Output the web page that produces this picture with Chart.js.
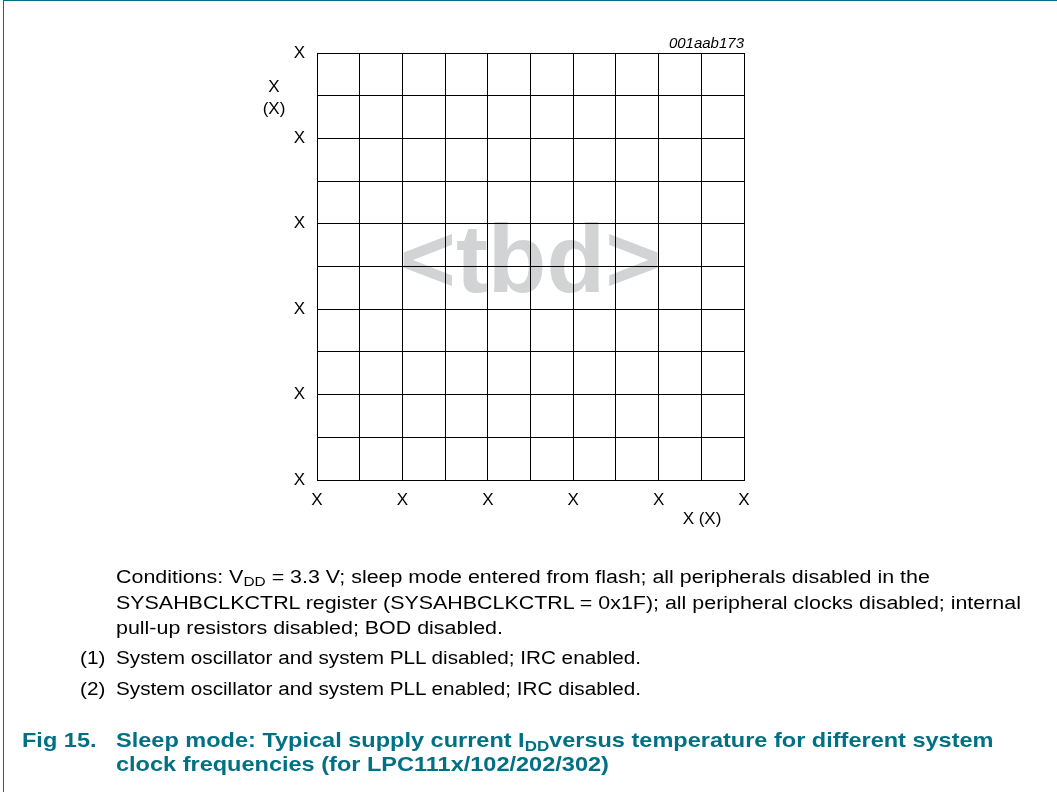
<!DOCTYPE html>
<html><head><meta charset="utf-8">
<script src="https://cdn.jsdelivr.net/npm/chart.js@4/dist/chart.umd.min.js"></script>
<style>
html,body{margin:0;padding:0;background:#fff;width:1057px;height:792px;overflow:hidden;font-family:"Liberation Sans",Arial,sans-serif;}
#frame{position:absolute;left:3px;top:0;width:1054px;height:792px;border-left:1px solid #007084;border-top:1px solid #007084;box-sizing:border-box;}
#wrap{position:absolute;left:0;top:0;width:1057px;height:792px;}
.t{position:absolute;white-space:nowrap;color:#000;}
.body{font-size:18px;line-height:25.5px;transform:scaleX(1.15);transform-origin:0 0;}
.para{transform:scaleX(1.19);}
sub{font-size:0.72em;vertical-align:-0.25em;line-height:0;}
.cap{font-size:21px;font-weight:bold;color:#007084;line-height:24px;transform:scaleX(1.12);transform-origin:0 0;}
</style></head><body>
<div id="frame"></div>
<div id="wrap"><canvas id="c" width="1057" height="792"></canvas></div>
<div class="t" style="left:0;width:548px;top:78px;text-align:center;font-size:17px;line-height:17px;">X</div>
<div class="t" style="left:0;width:548px;top:100px;text-align:center;font-size:17px;line-height:17px;">(X)</div>
<div class="t" style="left:660px;width:84px;top:510px;text-align:center;font-size:17px;line-height:17px;">X (X)</div>
<div class="t" style="right:313px;top:35px;font-size:15px;line-height:15px;font-style:italic;">001aab173</div>
<div class="t body para" style="left:116px;top:565px;">Conditions: V<sub>DD</sub> = 3.3 V; sleep mode entered from flash; all peripherals disabled in the<br>SYSAHBCLKCTRL register (SYSAHBCLKCTRL = 0x1F); all peripheral clocks disabled; internal<br>pull-up resistors disabled; BOD disabled.</div>
<div class="t body" style="left:80px;top:646px;">(1)</div>
<div class="t body" style="left:116px;top:646px;">System oscillator and system PLL disabled; IRC enabled.</div>
<div class="t body" style="left:80px;top:677px;">(2)</div>
<div class="t body" style="left:116px;top:677px;">System oscillator and system PLL enabled; IRC disabled.</div>
<div class="t cap" style="left:22px;top:728px;">Fig 15.</div>
<div class="t cap" style="left:116px;top:728px;">Sleep mode: Typical supply current I<sub>DD</sub>versus temperature for different system<br>clock frequencies (for LPC111x/102/202/302)</div>
<script>
// Tick labels (placeholder values in the reference)
const xTickLabels = ['X','X','X','X','X','X'];
const yTickLabels = ['X','X','X','X','X','X'];
const gridDivisions = 10;
// No data series are plotted in the reference (placeholder "<tbd>" chart)
const seriesData = [];

const watermark = {
  id:'watermark',
  beforeDraw(chart){
    const {ctx, chartArea:a} = chart;
    ctx.save();
    ctx.font = 'bold 96px "Liberation Sans", Arial, sans-serif';
    ctx.fillStyle = '#d1d3d4';
    ctx.textAlign = 'center';
    ctx.textBaseline = 'alphabetic';
    ctx.fillText('<tbd>', (a.left+a.right)/2, 292);
    ctx.restore();
  }
};

const tickFont = {family:'"Liberation Sans", Arial, sans-serif', size:17};
new Chart(document.getElementById('c'), {
  type:'scatter',
  data:{datasets:[{data:seriesData, showLine:false}]},
  options:{
    responsive:false, animation:false, maintainAspectRatio:false,
    layout:{padding:{left:260, top:53, right:313, bottom:272}},
    plugins:{legend:{display:false}, tooltip:{enabled:false}},
    scales:{
      x:{type:'linear', min:0, max:gridDivisions,
        afterFit(s){s.height=40;},
        afterBuildTicks(s){s.ticks=[...Array(gridDivisions+1).keys()].map(v=>({value:v}));},
        ticks:{autoSkip:false, maxRotation:0, padding:10, color:'#000', font:tickFont,
          callback:(v)=> v%2===0 ? xTickLabels[v/2] : ''},
        grid:{color:'#000', lineWidth:1, drawTicks:false},
        border:{color:'#000', width:1}},
      y:{type:'linear', min:0, max:gridDivisions,
        afterFit(s){s.width=57;},
        afterBuildTicks(s){s.ticks=[...Array(gridDivisions+1).keys()].map(v=>({value:v}));},
        ticks:{autoSkip:false, padding:12, color:'#000', font:tickFont,
          callback:(v)=> v%2===0 ? yTickLabels[v/2] : ''},
        grid:{color:'#000', lineWidth:1, drawTicks:false},
        border:{color:'#000', width:1}}
    }
  },
  plugins:[watermark]
});
</script>
</body></html>
